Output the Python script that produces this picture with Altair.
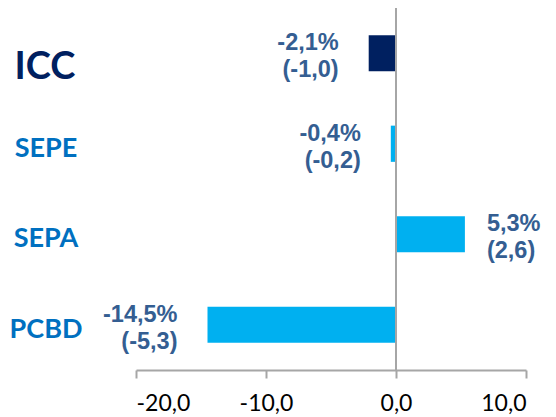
import altair as alt
import pandas as pd

categories = ["ICC", "SEPE", "SEPA", "PCBD"]
pct_change = [-2.1, -0.4, 5.3, -14.5]
abs_change = [-1.0, -0.2, 2.6, -5.3]
bar_colors = ["#002060", "#00B0F0", "#00B0F0", "#00B0F0"]
x_ticks = [-20, -10, 0, 10]


def fmt(v):
    return f"{v:.1f}".replace(".", ",")


df = pd.DataFrame({
    "cat": categories,
    "pct": pct_change,
    "abs": abs_change,
    "label": [f"{fmt(p)}%\n({fmt(a)})" for p, a in zip(pct_change, abs_change)],
})

yscale = alt.Scale(domain=categories, paddingInner=0.6, paddingOuter=0.3)
y_enc = alt.Y("cat:N", sort=categories, scale=yscale, axis=None)
xscale = alt.Scale(domain=[-20, 10], nice=False, zero=False)

base = alt.Chart(df)

bars = base.mark_bar().encode(
    x=alt.X("pct:Q", scale=xscale, axis=alt.Axis(
        values=x_ticks, title=None, grid=False,
        domainColor="#A6A6A6", domainWidth=2, tickColor="#A6A6A6", tickWidth=2,
        tickSize=8, labelFont="Lato", labelFontSize=23, labelColor="#000000",
        labelPadding=14,
        labelExpr="replace(replace(format(datum.value, '.1f'), '.', ','), '\u2212', '-')")),
    x2=alt.datum(0),
    y=y_enc,
    color=alt.Color("cat:N", scale=alt.Scale(domain=categories, range=bar_colors), legend=None),
)

zero = alt.Chart(df).mark_rule(color="#A6A6A6", strokeWidth=2).encode(x=alt.datum(0))

lab_style = dict(font="Liberation Sans", fontSize=23.5, fontWeight="bold",
                 color="#345E92", lineBreak="\n", lineHeight=27, baseline="middle", dy=-10)

neg_labels = base.transform_filter("datum.pct < 0").mark_text(align="right", dx=-30, **lab_style).encode(
    x=alt.X("pct:Q", scale=xscale), y=y_enc, text="label:N")
pos_labels = base.transform_filter("datum.pct >= 0").mark_text(align="left", dx=22, **lab_style).encode(
    x=alt.X("pct:Q", scale=xscale), y=y_enc, text="label:N")

icc_name = base.transform_filter("datum.cat == 'ICC'").mark_text(
    font="Lato", fontSize=38, fontWeight="bold", color="#002060",
    align="center", baseline="middle", dy=15).encode(
    x=alt.value(-91), y=y_enc, text="cat:N")
other_names = base.transform_filter("datum.cat != 'ICC'").mark_text(
    font="Lato", fontSize=27, fontWeight="bold", color="#0070C0",
    align="center", baseline="middle", dy=5).encode(
    x=alt.value(-90), y=y_enc, text="cat:N")

chart = alt.layer(bars, zero, neg_labels, pos_labels, icc_name, other_names).properties(
    width=390, height=362,
    autosize=alt.AutoSizeParams(type="none"),
    padding={"left": 128, "top": 0, "right": 22, "bottom": 47},
).configure_view(stroke=None)

chart.save("out.html", embed_options={"renderer": "svg", "actions": False})
